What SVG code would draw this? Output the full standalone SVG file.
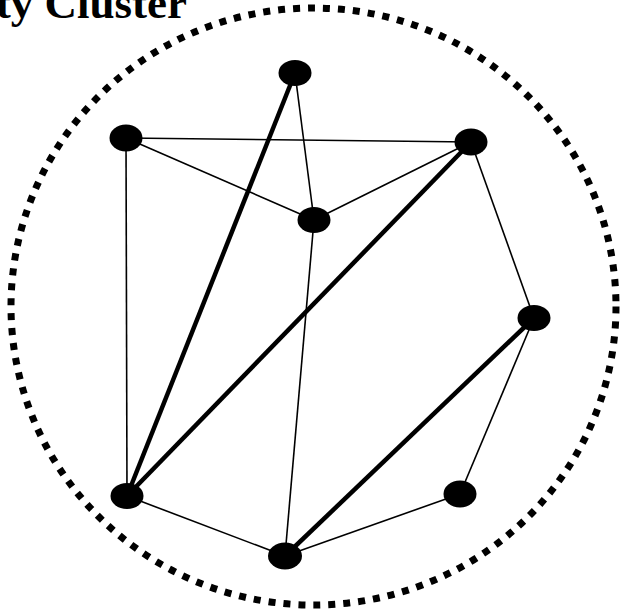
<svg xmlns="http://www.w3.org/2000/svg" width="621" height="613" viewBox="0 0 621 613">
<style>
.thin{stroke:#000;stroke-width:1.6;fill:none}
.thick{stroke:#000;stroke-width:4.5;fill:none}
.node{fill:#000}
.title{font-family:"Liberation Serif",serif;font-weight:bold;font-size:45px;fill:#000}
</style>
<rect width="621" height="613" fill="#fff"/>
<ellipse cx="313.5" cy="306.5" rx="302.5" ry="298.5" fill="none" stroke="#000" stroke-width="7" stroke-dasharray="7 8"/>
<text class="title" x="187" y="18" text-anchor="end">Community Cluster</text>
<g id="connectors">
<line class="thin" x1="126" y1="138" x2="471" y2="142"/>
<line class="thin" x1="126" y1="138" x2="314" y2="220"/>
<line class="thin" x1="126" y1="138" x2="127" y2="496"/>
<line class="thin" x1="295" y1="73" x2="314" y2="220"/>
<line class="thin" x1="314" y1="220" x2="471" y2="142"/>
<line class="thin" x1="471" y1="142" x2="534" y2="318"/>
<line class="thin" x1="314" y1="220" x2="285" y2="556"/>
<line class="thin" x1="127" y1="496" x2="285" y2="556"/>
<line class="thin" x1="285" y1="556" x2="460" y2="494"/>
<line class="thin" x1="460" y1="494" x2="534" y2="318"/>
<line class="thick" x1="295" y1="73" x2="127" y2="496"/>
<line class="thick" x1="471" y1="142" x2="127" y2="496"/>
<line class="thick" x1="534" y1="318" x2="285" y2="556"/>
</g>
<g id="n1"><ellipse class="node" cx="295" cy="73" rx="16.5" ry="13"/></g>
<g id="n2"><ellipse class="node" cx="126" cy="138" rx="16.5" ry="13.5"/></g>
<g id="n3"><ellipse class="node" cx="471" cy="142" rx="16.5" ry="13.5"/></g>
<g id="n4"><ellipse class="node" cx="314" cy="220" rx="16.5" ry="13"/></g>
<g id="n5"><ellipse class="node" cx="534" cy="318" rx="16.5" ry="13"/></g>
<g id="n6"><ellipse class="node" cx="127" cy="496" rx="16.5" ry="13"/></g>
<g id="n7"><ellipse class="node" cx="285" cy="556" rx="17" ry="13.5"/></g>
<g id="n8"><ellipse class="node" cx="460" cy="494" rx="16.5" ry="13.5"/></g>
</svg>
